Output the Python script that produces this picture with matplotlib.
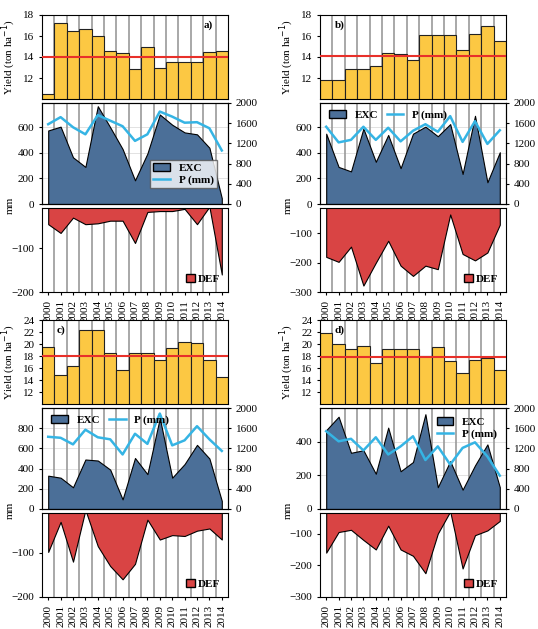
import matplotlib
matplotlib.use("Agg")
import matplotlib.pyplot as plt
import numpy as np
from matplotlib.patches import Patch
from matplotlib.lines import Line2D

plt.rcParams['font.family'] = ['Liberation Serif', 'DejaVu Serif']

years = list(range(2000, 2015))

yield_a = [10.5, 17.2, 16.5, 16.7, 16.0, 14.6, 14.4, 12.9, 15.0, 13.0, 13.5, 13.5, 13.5, 14.5, 14.6]
exc_a = [575, 605, 365, 290, 765, 600, 430, 185, 395, 700, 620, 560, 545, 440, 45]
p_a = [1580, 1720, 1520, 1380, 1760, 1650, 1540, 1250, 1380, 1830, 1730, 1610, 1620, 1500, 1060]
def_a = [-45, -65, -30, -45, -43, -37, -37, -88, -17, -15, -15, -10, -45, -5, -160]

yield_b = [11.8, 11.8, 12.9, 12.9, 13.1, 14.4, 14.3, 13.7, 16.1, 16.1, 16.1, 14.7, 16.2, 17.0, 15.5]
exc_b = [550, 290, 255, 590, 330, 540, 280, 550, 605, 530, 625, 235, 690, 170, 405]
p_b = [1530, 1220, 1270, 1530, 1270, 1510, 1240, 1450, 1580, 1430, 1740, 1230, 1640, 1190, 1460]
def_b = [-180, -197, -145, -278, -200, -125, -210, -245, -210, -222, -35, -170, -192, -165, -70]

yield_c = [19.5, 14.8, 16.3, 22.3, 22.3, 18.5, 15.7, 18.5, 18.5, 17.3, 19.3, 20.4, 20.2, 17.3, 14.5]
exc_c = [330, 310, 215, 490, 480, 390, 95, 505, 345, 900, 310, 445, 635, 500, 80]
p_c = [1430, 1410, 1280, 1570, 1420, 1380, 1080, 1490, 1290, 1890, 1260, 1360, 1640, 1380, 1150]
def_c = [-98, -30, -120, -3, -85, -130, -160, -125, -25, -70, -60, -62, -50, -45, -70]

yield_d = [21.8, 20.0, 19.2, 19.7, 16.9, 19.2, 19.1, 19.2, 18.0, 19.5, 17.1, 15.1, 17.4, 17.6, 15.6]
exc_d = [470, 550, 335, 350, 210, 485, 225, 280, 565, 130, 285, 115, 260, 385, 130]
p_d = [1540, 1340, 1390, 1160, 1420, 1080, 1240, 1440, 970, 1240, 880, 1210, 1320, 1040, 660]
def_d = [-160, -95, -88, -120, -150, -75, -150, -170, -225, -100, -30, -210, -105, -90, -60]

panels = [
    dict(lab='a)', y=yield_a, e=exc_a, p=p_a, d=def_a, mean=14.0, ylim=(10, 18), yt=[12, 14, 16, 18],
         elim=(0, 790), et=[0, 200, 400, 600], dlim=(-200, -8), dt=[-200, -100],
         leg=dict(loc='lower right', bbox_to_anchor=(0.97, 0.1), frameon=True, ncol=1),
         lx=0.9, left=42, top=15),
    dict(lab='b)', y=yield_b, e=exc_b, p=p_b, d=def_b, mean=14.1, ylim=(10, 18), yt=[12, 14, 16, 18],
         elim=(0, 790), et=[0, 200, 400, 600], dlim=(-300, -13), dt=[-300, -200, -100],
         leg=dict(loc='upper left', bbox_to_anchor=(0.0, 1.02), frameon=False, ncol=2),
         lx=0.08, left=320, top=15),
    dict(lab='c)', y=yield_c, e=exc_c, p=p_c, d=def_c, mean=18.0, ylim=(10, 24), yt=[12, 14, 16, 18, 20, 22, 24],
         elim=(0, 1000), et=[0, 200, 400, 600, 800], dlim=(-200, -10), dt=[-200, -100],
         leg=dict(loc='upper left', bbox_to_anchor=(0.0, 1.02), frameon=False, ncol=2),
         lx=0.08, left=42, top=320),
    dict(lab='d)', y=yield_d, e=exc_d, p=p_d, d=def_d, mean=17.8, ylim=(10, 24), yt=[12, 14, 16, 18, 20, 22, 24],
         elim=(0, 602), et=[0, 200, 400], dlim=(-300, -35), dt=[-300, -200, -100],
         leg=dict(loc='upper right', bbox_to_anchor=(1.0, 1.0), frameon=False, ncol=1),
         lx=0.25, left=320, top=320),
]

W, H = 538, 629
fig = plt.figure(figsize=(W/100, H/100), dpi=100)

yellow = '#FCC843'
blue = '#4B6F98'
red = '#D94444'
pcol = '#35B4E4'
grid = '#999999'
fs = 8

def ax_at(x, y, w, h):
    return fig.add_axes([x/W, 1-(y+h)/H, w/W, h/H])

yrs = np.array(years)
bounds = yrs[:-1] + 0.5
for pn in panels:
    L, T = pn['left'], pn['top']
    w = 186
    a1 = ax_at(L, T, w, 84)
    a2 = ax_at(L, T+88, w, 101)
    a3 = ax_at(L, T+193, w, 84)
    for ax in (a1, a2, a3):
        ax.set_xlim(1999.5, 2014.5)
        for b in bounds:
            ax.axvline(b, color=grid, lw=1.2, zorder=0.5)
        ax.tick_params(labelsize=fs, length=2, direction='out')
    a1.bar(yrs, pn['y'], width=1.0, color=yellow, edgecolor='#222222', lw=0.8, zorder=2)
    a1.axhline(pn['mean'], color='#E8302A', lw=1.5, zorder=3)
    a1.set_ylim(*pn['ylim'])
    a1.set_yticks(pn['yt'][:-1] if pn['yt'][-1] == pn['ylim'][1] and False else pn['yt'])
    a1.set_xticks([])
    a1.set_ylabel('Yield (ton ha$^{-1}$)', fontsize=fs)
    a1.text(0.87 if pn['lab'] in ('a)',) else 0.08, 0.88, pn['lab'], transform=a1.transAxes,
            fontsize=fs, fontweight='bold', va='center')

    a2.fill_between(yrs, 0, pn['e'], color=blue, edgecolor='black', lw=0.8, zorder=2)
    a2.set_ylim(*pn['elim'])
    a2.set_yticks(pn['et'])
    a2.set_xticks([])
    for t in pn['et'][1:]:
        a2.axhline(t, color='#dddddd', lw=0.6, zorder=0.3)
    a2b = a2.twinx()
    a2b.plot(yrs, pn['p'], color=pcol, lw=1.8, zorder=3)
    a2b.set_ylim(0, 2000)
    a2b.set_yticks([0, 400, 800, 1200, 1600, 2000])
    a2b.tick_params(labelsize=fs, length=2)
    handles = [Patch(facecolor=blue, edgecolor='black', label='EXC'),
               Line2D([], [], color=pcol, lw=1.8, label='P (mm)')]
    lg = a2b.legend(handles=handles, fontsize=fs, prop=dict(weight='bold', size=fs),
                    handlelength=1.5, borderpad=0.3, labelspacing=0.2, columnspacing=0.8,
                    fancybox=False, edgecolor='#555555', **pn['leg'])

    a3.fill_between(yrs, 0, pn['d'], color=red, edgecolor='black', lw=0.8, zorder=2)
    a3.set_ylim(*pn['dlim'])
    a3.set_yticks(pn['dt'])
    a3.set_xticks(yrs)
    a3.set_xticklabels([str(v) for v in years], rotation=90, fontsize=fs)
    a3.legend(handles=[Patch(facecolor=red, edgecolor='black', label='DEF')],
              loc='lower right', frameon=False, prop=dict(weight='bold', size=fs),
              handlelength=0.8, handletextpad=0.3, borderpad=0.2)
    fig.text((L-32)/W, 1-(T+190)/H, 'mm', rotation=90, fontsize=fs, va='center', ha='center')

fig.savefig('out.png', dpi=100)
